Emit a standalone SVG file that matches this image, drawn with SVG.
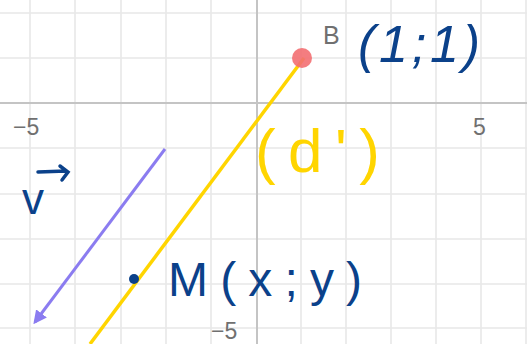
<svg xmlns="http://www.w3.org/2000/svg" width="527" height="344" viewBox="0 0 527 344">
<defs>
<style>
.grid{stroke:#e8e8e8;stroke-width:1.6;fill:none}
.axis{stroke:#c4c4c4;stroke-width:2;fill:none}
.tick{font-family:"Liberation Sans",Arial,sans-serif;font-size:23px;fill:#707070}
.hand{font-family:"Liberation Sans",Arial,sans-serif;fill:#0b418a}
.handy{font-family:"Liberation Sans",Arial,sans-serif;fill:#ffd500}
</style>
<marker id="ah" viewBox="0 0 10 10" refX="8" refY="5" markerWidth="4.5" markerHeight="4.5" orient="auto">
<path d="M0,0 L10,5 L0,10 Z" fill="#8b7cf0"/>
</marker>
</defs>
<rect width="527" height="344" fill="#ffffff"/>
<g id="grid">
<path class="grid" d="M30,0V344M75,0V344M121,0V344M166,0V344M211,0V344M301,0V344M346,0V344M391,0V344M436,0V344M481,0V344M526,0V344"/>
<path class="grid" d="M0,13H527M0,58H527M0,148H527M0,194H527M0,239H527M0,284H527M0,328H527"/>
<path class="axis" d="M257,0V344M0,103H527"/>
<text class="tick" x="13" y="135">−5</text>
<text class="tick" x="473" y="135">5</text>
<text class="tick" x="211" y="339">−5</text>
</g>
<g id="connectors">
<line id="line-d" x1="304" y1="58" x2="90" y2="344" stroke="#ffd500" stroke-width="3.5"/>
<line id="vector-v" x1="165" y1="149" x2="35" y2="322" stroke="#8b7cf0" stroke-width="3" marker-end="url(#ah)"/>
</g>
<g id="B">
<circle cx="302" cy="58" r="10" fill="#f36f72" opacity="0.9"/>
<text class="tick" x="323" y="44" style="font-size:25px">B</text>
</g>
<g id="B-coords">
<text class="hand" x="358" y="62" font-size="52" textLength="122" lengthAdjust="spacing" font-style="italic">(1;1)</text>
</g>
<g id="d-label">
<text class="handy" x="255" y="172" font-size="62" textLength="125" lengthAdjust="spacing">(d')</text>
</g>
<g id="v-label">
<text class="hand" x="22" y="214" font-size="44">v</text>
<path d="M38,172 L66,171 M60,166 L68,172 L62,180" stroke="#0b418a" stroke-width="3.5" fill="none" stroke-linecap="round"/>
</g>
<g id="M">
<circle cx="134" cy="279" r="5" fill="#0b418a"/>
<text class="hand" x="168" y="296" font-size="48" textLength="194" lengthAdjust="spacing">M(x;y)</text>
</g>
</svg>
